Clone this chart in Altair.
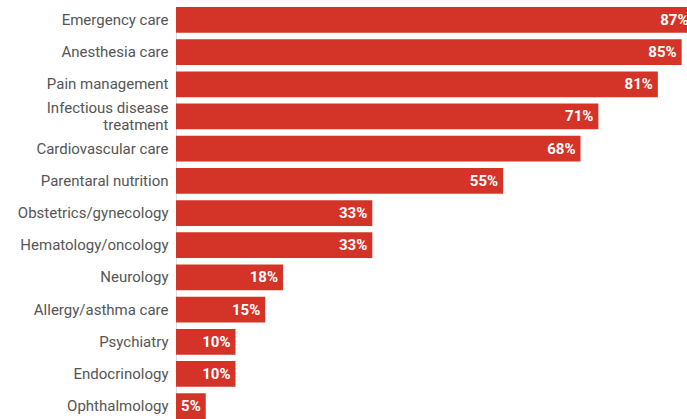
import altair as alt
import pandas as pd

categories = [
    "Emergency care", "Anesthesia care", "Pain management",
    "Infectious disease treatment", "Cardiovascular care", "Parentaral nutrition",
    "Obstetrics/gynecology", "Hematology/oncology", "Neurology",
    "Allergy/asthma care", "Psychiatry", "Endocrinology", "Ophthalmology",
]
values = [87, 85, 81, 71, 68, 55, 33, 33, 18, 15, 10, 10, 5]

df = pd.DataFrame({"category": categories, "value": values})
df["label"] = df["value"].astype(str) + "%"

y_enc = alt.Y(
    "category:N",
    sort=categories,
    title=None,
    scale=alt.Scale(paddingInner=0.2, paddingOuter=0),
    axis=alt.Axis(
        domain=False, ticks=False, labelPadding=8, labelFontSize=15,
        labelColor="#555555", labelFont="Roboto", labelLimit=300,
        labelLineHeight=17,
        labelOffset=alt.condition(
            "datum.value == 'Infectious disease treatment'", alt.value(-8), alt.value(0)
        ),
        labelExpr="datum.label == 'Infectious disease treatment' ? ['Infectious disease', 'treatment'] : datum.label",
    ),
)
x_enc = alt.X("value:Q", axis=None, scale=alt.Scale(domain=[0, 85.9], nice=False, zero=True))

bars = alt.Chart(df).mark_bar(color="#d43328", clip=True).encode(x=x_enc, y=y_enc)
text = alt.Chart(df).mark_text(
    align="right", baseline="middle", dx=-5, color="white",
    font="Roboto", fontWeight="bold", fontSize=15,
).encode(x=x_enc, y=y_enc, text="label:N")

chart = (bars + text).properties(
    width=511, height=412,
    autosize=alt.AutoSizeParams(type="none"),
    padding={"left": 176, "top": 7, "right": 0, "bottom": 0},
).configure_view(stroke=None).configure(background="white")

chart.save("out.html", embed_options={"renderer": "svg", "actions": False})
